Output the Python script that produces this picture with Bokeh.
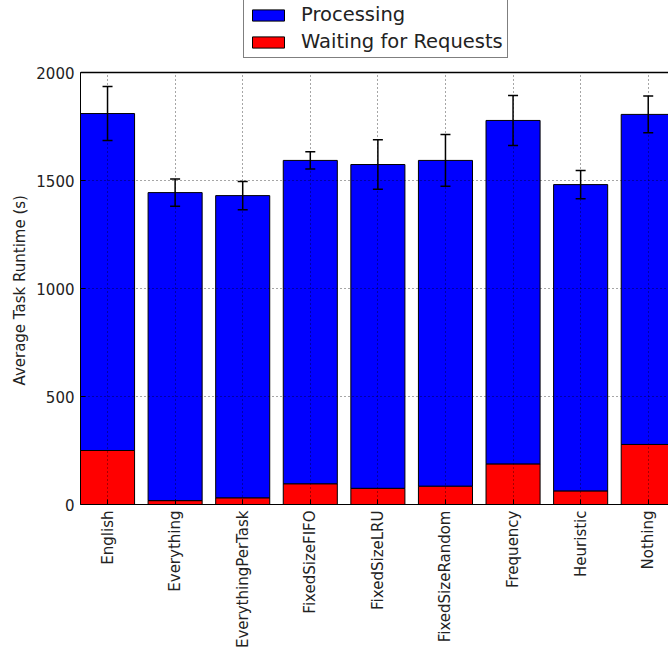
from bokeh.plotting import figure
from bokeh.models import (Range1d, FixedTicker, Whisker, TeeHead, Legend, LegendItem,
                          ColumnDataSource, Span, Title)
from bokeh.embed import file_html
from bokeh.resources import INLINE
import math

categories = ["English", "Everything", "EverythingPerTask", "FixedSizeFIFO",
              "FixedSizeLRU", "FixedSizeRandom", "Frequency", "Heuristic", "Nothing"]
waiting = [250, 18, 31, 96, 75, 85, 188, 63, 278]
processing = [1560, 1426, 1399, 1497, 1499, 1508, 1590, 1418, 1528]
errors = [125, 63, 65, 40, 115, 120, 116, 65, 85]
y_ticks = [0, 500, 1000, 1500, 2000]
y_max = 2000

x = list(range(len(categories)))
totals = [w + p for w, p in zip(waiting, processing)]
src = ColumnDataSource(dict(
    x=x, waiting=waiting, total=totals,
    upper=[t + e for t, e in zip(totals, errors)],
    lower=[t - e for t, e in zip(totals, errors)],
))

FONT = "DejaVu Sans"

# frame covers the legend area too: axes region is 432px tall, plus 72px headroom for the legend
AX_H, HEAD = 432, 72
p = figure(frame_width=588, frame_height=AX_H + HEAD,
           min_border_left=80, min_border_right=0, min_border_top=0, min_border_bottom=153,
           x_range=Range1d(-0.4, 8.3), y_range=Range1d(0, y_max * (AX_H + HEAD) / AX_H),
           output_backend="svg", toolbar_location=None, margin=0)
p.outline_line_color = None

r_wait = p.vbar(x="x", top="waiting", bottom=0, width=0.8, source=src,
                fill_color="#ff0000", line_color="black", line_width=1)
r_proc = p.vbar(x="x", top="total", bottom="waiting", width=0.8, source=src,
                fill_color="#0000ff", line_color="black", line_width=1)

wh = Whisker(base="x", upper="upper", lower="lower", source=src,
             line_color="black", line_width=1.5,
             upper_head=TeeHead(size=10, line_color="black", line_width=1.5),
             lower_head=TeeHead(size=10, line_color="black", line_width=1.5),
             level="overlay")
p.add_layout(wh)

# axes
p.xaxis.ticker = FixedTicker(ticks=x)
p.xaxis.major_label_overrides = {i: c for i, c in enumerate(categories)}
p.xaxis.major_label_orientation = math.pi / 2
p.yaxis.ticker = FixedTicker(ticks=y_ticks)
p.yaxis.bounds = (0, y_max)
for ax in (p.xaxis, p.yaxis):
    ax.major_label_text_font = FONT
    ax.major_label_text_font_size = "15px"
    ax.major_label_text_color = "#222222"
    ax.axis_line_color = "black"
    ax.major_tick_in = 5
    ax.major_tick_out = 0
    ax.minor_tick_line_color = None
    ax.major_label_standoff = 6

# y-axis title, centred on the axes box (not the whole frame)
ytitle = Title(text="Average Task Runtime (s)", align="left", offset=119,
               text_font=FONT, text_font_size="15px", text_font_style="normal",
               text_color="#222222", standoff=10)
p.add_layout(ytitle, "left")

# top frame edge of the axes box
p.add_layout(Span(location=y_max, dimension="width", line_color="black", line_width=1.5,
                  level="overlay"))

for g in (p.xgrid, p.ygrid):
    g.grid_line_color = "black"
    g.grid_line_dash = "1 3"
    g.grid_line_alpha = 0.7
    g.level = "guide"
p.xgrid.ticker = FixedTicker(ticks=x)
p.ygrid.ticker = FixedTicker(ticks=y_ticks)
if "cross_bounds" in p.xgrid.properties():
    p.xgrid.cross_bounds = (0, y_max)
else:
    p.xgrid.visible = False
    p.segment(x0="x", x1="x", y0=0, y1=y_max, source=src, line_color="black",
              line_dash="1 3", line_alpha=0.7, level="guide")

legend = Legend(items=[LegendItem(label="Processing", renderers=[r_proc]),
                       LegendItem(label="Waiting for Requests", renderers=[r_wait])],
                location=(163, AX_H + 14), orientation="vertical",
                label_text_font=FONT, label_text_font_size="19.5px", label_text_color="#222222",
                glyph_width=40, glyph_height=14, label_standoff=13,
                padding=4, spacing=4, label_height=20, margin=0,
                border_line_color="black", border_line_width=1,
                background_fill_color="white", background_fill_alpha=1.0)
p.add_layout(legend, "center")

open("out.html", "w").write(file_html(p, INLINE))
